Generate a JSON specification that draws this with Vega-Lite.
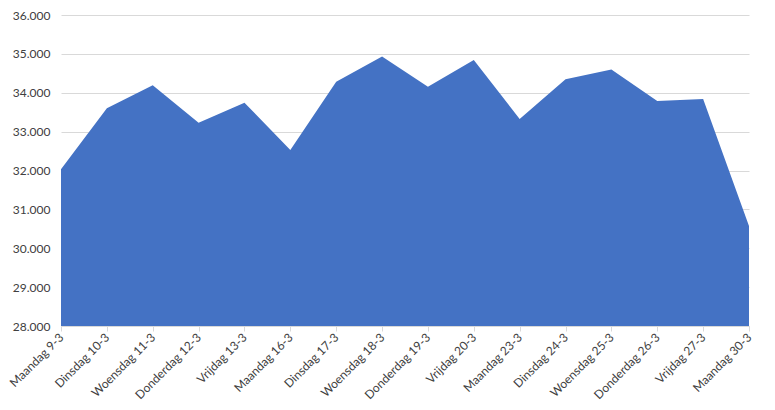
{
  "$schema": "https://vega.github.io/schema/vega-lite/v6.json",
  "autosize": {"type": "none"},
  "width": 688,
  "height": 311,
  "padding": {"left": 61, "top": 15, "right": 26, "bottom": 84},
  "background": "white",
  "config": {
    "view": {"stroke": null},
    "font": "Lato"
  },
  "data": {
    "values": [
      {"dag": "Maandag 9-3", "waarde": 32030},
      {"dag": "Dinsdag 10-3", "waarde": 33600},
      {"dag": "Woensdag 11-3", "waarde": 34190},
      {"dag": "Donderdag 12-3", "waarde": 33230},
      {"dag": "Vrijdag 13-3", "waarde": 33745},
      {"dag": "Maandag 16-3", "waarde": 32530},
      {"dag": "Dinsdag 17-3", "waarde": 34285},
      {"dag": "Woensdag 18-3", "waarde": 34930},
      {"dag": "Donderdag 19-3", "waarde": 34155},
      {"dag": "Vrijdag 20-3", "waarde": 34840},
      {"dag": "Maandag 23-3", "waarde": 33325},
      {"dag": "Dinsdag 24-3", "waarde": 34345},
      {"dag": "Woensdag 25-3", "waarde": 34595},
      {"dag": "Donderdag 26-3", "waarde": 33790},
      {"dag": "Vrijdag 27-3", "waarde": 33840},
      {"dag": "Maandag 30-3", "waarde": 30570}
    ]
  },
  "mark": {"type": "area", "color": "#4472C4", "opacity": 1},
  "encoding": {
    "x": {
      "field": "dag",
      "type": "ordinal",
      "sort": null,
      "scale": {"type": "point", "padding": 0},
      "axis": {
        "title": null,
        "labelAngle": -45,
        "labelAlign": "right",
        "labelBaseline": "middle",
        "labelFont": "Lato",
        "labelFontSize": 12,
        "labelColor": "#404040",
        "labelPadding": 4,
        "domainColor": "#d9d9d9",
        "tickColor": "#d9d9d9",
        "tickSize": 5,
        "grid": false,
        "zindex": 1
      }
    },
    "y": {
      "field": "waarde",
      "type": "quantitative",
      "scale": {"domain": [28000, 36000], "zero": false, "nice": false},
      "axis": {
        "title": null,
        "values": [28000, 29000, 30000, 31000, 32000, 33000, 34000, 35000, 36000],
        "labelExpr": "replace(format(datum.value, ','), ',', '.')",
        "labelFont": "Lato",
        "labelFontSize": 12,
        "labelColor": "#404040",
        "labelPadding": 11,
        "domain": false,
        "ticks": false,
        "grid": true,
        "gridColor": "#d9d9d9",
        "gridWidth": 1
      }
    },
    "y2": {"datum": 28000}
  }
}
